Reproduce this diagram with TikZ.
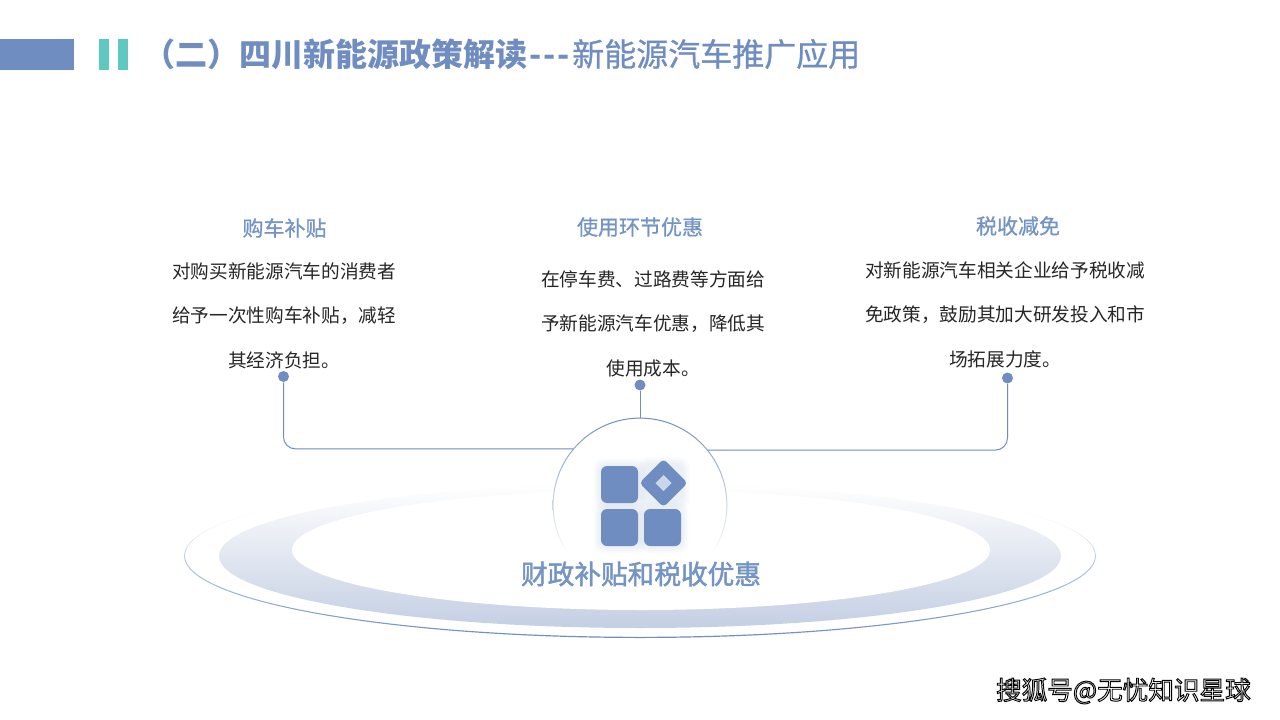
\documentclass[tikz,border=0pt]{standalone}
\usepackage{fontspec}
\setmainfont{Noto Sans CJK SC}
\newfontfamily\cjk{Noto Sans CJK SC}
\newfontfamily\cjkmed[FakeBold=0.8]{Noto Sans CJK SC}
\newfontfamily\cjkhub[FakeBold=1.8]{Noto Sans CJK SC}
\definecolor{brand}{HTML}{6F8DC1}
\definecolor{headc}{HTML}{7494C4}
\definecolor{tealc}{HTML}{5FC9C1}
\definecolor{bodyc}{HTML}{262626}
\definecolor{bandlow}{HTML}{C4CFE3}
\definecolor{bandmid}{HTML}{DFE5F0}
\definecolor{ringmid}{HTML}{C3D1E8}
\definecolor{lightd}{HTML}{CAD6E9}
\pgfdeclareverticalshading{hubfade}{100bp}{color(0bp)=(white); color(36bp)=(white); color(75bp)=(brand); color(100bp)=(brand)}
\pgfdeclareverticalshading{ringfade}{100bp}{color(0bp)=(brand); color(25bp)=(brand); color(50bp)=(ringmid); color(64bp)=(white); color(100bp)=(white)}
\tikzset{
  px/.style={x=0.75pt,y=-0.75pt},
  headtext/.style={font=\cjkmed\fontsize{15.75pt}{19pt}\selectfont,text=headc,inner sep=0pt},
  bodytext/.style={font=\cjk\fontsize{14pt}{33.5pt}\selectfont,text=bodyc,align=center,inner sep=0pt},
  dotnode/.style={circle,fill=brand,draw=none,minimum size=8.25pt,inner sep=0pt},
  link/.style={draw=brand,line width=0.75pt},
  tile/.style={fill=brand,draw=none,rounded corners=4.5pt,minimum size=27.75pt,inner sep=0pt},
}
\begin{document}
\begin{tikzpicture}[px]
\useasboundingbox[fill=white] (0,0) rectangle (1280,720);
% header
\fill[brand] (0,39) rectangle (74,70);
\fill[tealc] (99,39) rectangle (109,70);
\fill[tealc] (118,39) rectangle (128,70);
\node[anchor=west,inner sep=0pt,text=brand,font=\cjk\fontsize{24pt}{28pt}\selectfont] (title) at (143,54)
  {{\bfseries （二）四川新能源政策解读\hbox to 33.75pt{\hss-\hss-\hss-\hss}}{\cjkmed 新能源汽车推广应用}};
% rings
\shade[even odd rule,shading=ringfade]
  (640,556) ellipse [x radius=456,y radius=82]
  (640,555.6) ellipse [x radius=455,y radius=81.2];
\shade[top color=white,middle color=bandmid,bottom color=bandlow]
  (640,556) ellipse [x radius=421,y radius=72];
\fill[white] (641,550) ellipse [x radius=349,y radius=60];
% hub
\node[circle,fill=white,draw=none,minimum size=130.5pt,inner sep=0pt] (hub) at (640,505) {};
\shade[even odd rule,shading=hubfade]
  (640,505) circle [radius=87.4] (640,505) circle [radius=86.4];
% glow
\foreach \gx/\gy in {619.5/484.5,619.5/527.5,662.5/527.5,663.5/483}{
  \foreach \gr in {26,24.5,23,21.5,20}{
    \fill[brand,fill opacity=0.022,rounded corners=7pt]
      (\gx-\gr,\gy-\gr) rectangle (\gx+\gr,\gy+\gr);
  }
}
% icon
\node[tile] (tileA) at (619.5,484.5) {};
\node[tile] (tileB) at (619.5,527.5) {};
\node[tile] (tileC) at (662.5,527.5) {};
\node[fill=brand,rounded corners=3pt,minimum size=25.6pt,inner sep=0pt,rotate=45] (diamond) at (663.5,483) {};
\node[fill=lightd,minimum size=8.5pt,inner sep=0pt,rotate=45] (diamondIn) at (663.5,483) {};
\node[inner sep=0pt,text=headc,font=\cjkhub\fontsize{20pt}{24pt}\selectfont] (hubtext) at (641,574) {财政补贴和税收优惠};
% dots and links
\node[dotnode] (dotL) at (283.5,376.5) {};
\node[dotnode] (dotC) at (640,385) {};
\node[dotnode] (dotR) at (1007.5,378) {};
\draw[link,rounded corners=9pt] (dotL) |- (hub.140.5);
\draw[link,rounded corners=9pt] (dotR) |- (hub.39.5);
\draw[link] (dotC) -- (hub.north);
% columns
\node[headtext] (h1) at (284.5,228) {购车补贴};
\node[headtext] (h2) at (640,227) {使用环节优惠};
\node[headtext] (h3) at (1018,226) {税收减免};
\node[bodytext] (b1) at (284,315.8) {对购买新能源汽车的消费者\\给予一次性购车补贴，减轻\\其经济负担。};
\node[bodytext] (b2) at (653,323.6) {在停车费、过路费等方面给\\予新能源汽车优惠，降低其\\使用成本。};
\node[bodytext] (b3) at (1005,314.6) {对新能源汽车相关企业给予税收减\\免政策，鼓励其加大研发投入和市\\场拓展力度。};
% watermark
\node[inner sep=0pt,anchor=east,font=\cjk\fontsize{19.2pt}{24pt}\selectfont,text=white] (mark) at (1251,691)
  {\special{pdf:code q 2 Tr 0.7 w 0 0 0 RG 1 1 1 rg}搜狐号@无忧知识星球\special{pdf:code Q}};
\end{tikzpicture}
\end{document}
